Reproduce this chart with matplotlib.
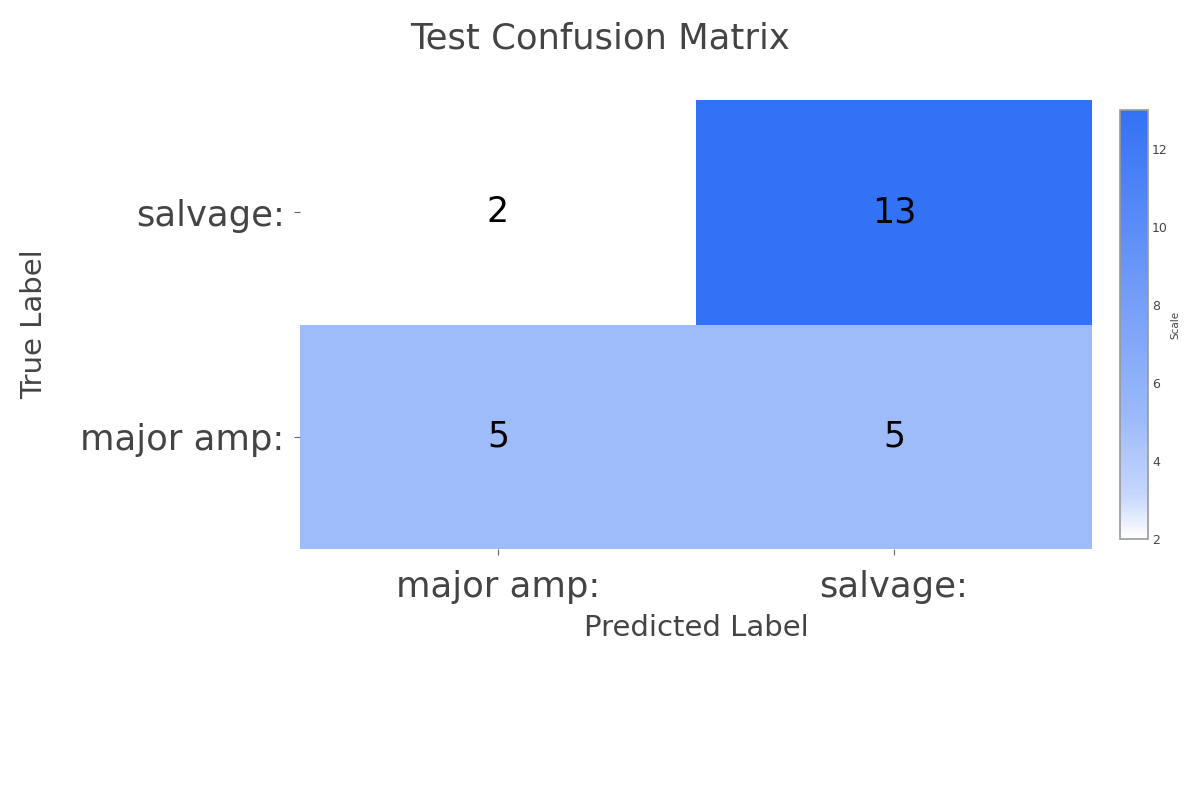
import numpy as np
import matplotlib
matplotlib.use("Agg")
import matplotlib.pyplot as plt
from matplotlib.colors import LinearSegmentedColormap, to_rgb

plt.rcParams['font.family'] = ['DejaVu Sans']

# data
pred_labels = ['major amp:', 'salvage:']
true_labels = ['major amp:', 'salvage:']
counts = np.array([[5, 5],
                   [2, 13]])

text_col = '#444444'
blue = np.array(to_rgb('#3471f5'))
white = np.ones(3)


def blend(f):
    return tuple(white + (blue - white) * f)


cmap = LinearSegmentedColormap.from_list(
    'scale', [(0.0, blend(0.0)), (0.1, blend(0.28)), (0.273, blend(0.48)), (1.0, blend(1.0))])

fig = plt.figure(figsize=(12, 8), dpi=100)
ax = fig.add_axes([0.25, 0.31375, 0.66, 0.56125])
im = ax.imshow(counts, cmap=cmap, vmin=2, vmax=13, origin='lower', aspect='auto',
               extent=(-0.5, 1.5, -0.5, 1.5))

for i in range(len(true_labels)):
    for j in range(len(pred_labels)):
        ax.text(j, i, str(counts[i, j]), ha='center', va='center', fontsize=25, color='black')

ax.set_xticks(range(len(pred_labels)))
ax.set_xticklabels(pred_labels, fontsize=25.5, color=text_col)
ax.set_yticks(range(len(true_labels)))
ax.set_yticklabels(true_labels, fontsize=25.5, color=text_col)
ax.tick_params(axis='both', length=4, width=0.8, color='#666666')
ax.tick_params(axis='x', pad=11)
ax.tick_params(axis='y', pad=7)
for s in ax.spines.values():
    s.set_visible(False)
ax.set_xlabel('Predicted Label', fontsize=21, color=text_col)
ax.set_ylabel('True Label', fontsize=21, color=text_col)
ax.yaxis.set_label_coords(-0.318, 0.5)
ax.xaxis.set_label_coords(0.5, -0.145)

fig.text(0.5, 0.952, 'Test Confusion Matrix', ha='center', va='center', fontsize=25.5, color=text_col)

cax = fig.add_axes([0.9333, 0.32625, 0.0233, 0.536])
cb = fig.colorbar(im, cax=cax, ticks=[2, 4, 6, 8, 10, 12])
cb.outline.set_edgecolor('#999999')
cb.outline.set_linewidth(1.2)
cax.tick_params(labelsize=9, colors=text_col, length=0, pad=3)
cb.set_label('Scale', fontsize=7.5, color=text_col, labelpad=2)

fig.savefig('out.png', dpi=100)
